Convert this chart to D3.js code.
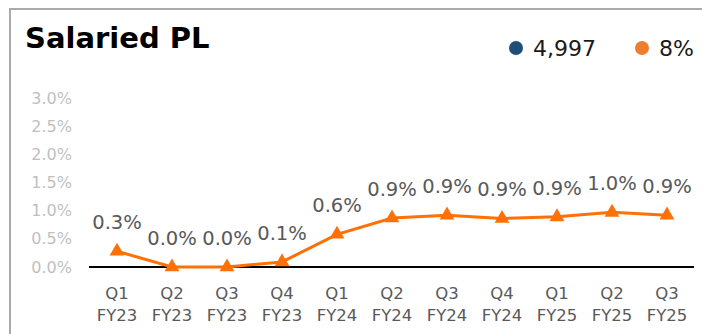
<!DOCTYPE html>
<html>
<head>
<meta charset="utf-8">
<script src="https://cdn.jsdelivr.net/npm/d3@7"></script>
<style>
  html, body { margin: 0; padding: 0; background: #fff; }
  svg { display: block; }
  text { font-family: "DejaVu Sans", "Open Sans", sans-serif; }
</style>
</head>
<body>
<script>
// Quarterly series
const quarters = ["Q1", "Q2", "Q3", "Q4", "Q1", "Q2", "Q3", "Q4", "Q1", "Q2", "Q3"];
const fiscalYears = ["FY23", "FY23", "FY23", "FY23", "FY24", "FY24", "FY24", "FY24", "FY25", "FY25", "FY25"];
const rates = [0.28, 0.0, 0.0, 0.09, 0.58, 0.87, 0.92, 0.86, 0.89, 0.97, 0.92];
const yTicks = [0, 0.5, 1.0, 1.5, 2.0, 2.5, 3.0];
const legendItems = [
  { label: "4,997", color: "#1f4e79" },
  { label: "8%", color: "#ed7d31" }
];

const W = 702, H = 334;
const svg = d3.select("body").append("svg").attr("width", W).attr("height", H);

// card border (top and left edges visible)
svg.append("path")
  .attr("d", `M10,${H} L10,9 L${W},9`)
  .attr("fill", "none").attr("stroke", "#aaaaaa").attr("stroke-width", 2);

// title
svg.append("text")
  .attr("x", 25).attr("y", 48)
  .attr("font-size", 29).attr("font-weight", "bold").attr("fill", "#000")
  .text("Salaried PL");

// legend
const legendX = [516, 642];
legendItems.forEach((d, i) => {
  svg.append("circle").attr("cx", legendX[i]).attr("cy", 48).attr("r", 7).attr("fill", d.color);
  svg.append("text").attr("x", legendX[i] + 17).attr("y", 56)
    .attr("font-size", 22).attr("fill", "#1a1a1a").text(d.label);
});

// scales
const x = d3.scaleBand().domain(d3.range(rates.length)).range([89.5, 694.5]);
const y = d3.scaleLinear().domain([0, 3]).range([267, 98]);
const cx = i => x(i) + x.bandwidth() / 2;

// y tick labels
svg.append("g").selectAll("text").data(yTicks).join("text")
  .attr("x", 72).attr("y", d => y(d)).attr("dy", "0.35em")
  .attr("text-anchor", "end").attr("font-size", 16).attr("fill", "#bfbfbf")
  .text(d => d3.format(".1f")(d) + "%");

// baseline
svg.append("line")
  .attr("x1", 89).attr("x2", 694).attr("y1", y(0)).attr("y2", y(0))
  .attr("stroke", "#000").attr("stroke-width", 2);

// x labels (two lines)
const xl = svg.append("g").selectAll("text").data(rates).join("text")
  .attr("text-anchor", "middle").attr("font-size", 16.5).attr("fill", "#595959");
xl.append("tspan").attr("x", (d, i) => cx(i)).attr("y", 299).text((d, i) => quarters[i]);
xl.append("tspan").attr("x", (d, i) => cx(i)).attr("y", 321).text((d, i) => fiscalYears[i]);

// line
svg.append("path").datum(rates)
  .attr("d", d3.line().x((d, i) => cx(i)).y(d => y(d)))
  .attr("fill", "none").attr("stroke", "#ff7007").attr("stroke-width", 3);

// triangle markers
const tri = d3.symbol().type(d3.symbolTriangle).size(95);
svg.append("g").selectAll("path").data(rates).join("path")
  .attr("transform", (d, i) => `translate(${cx(i)},${y(d)})`)
  .attr("d", tri).attr("fill", "#ff7007");

// value labels
svg.append("g").selectAll("text").data(rates).join("text")
  .attr("x", (d, i) => cx(i)).attr("y", d => y(d) - 29).attr("dy", "0.35em")
  .attr("text-anchor", "middle").attr("font-size", 19.5).attr("fill", "#595959")
  .text(d => d3.format(".1f")(d) + "%");
</script>
</body>
</html>
